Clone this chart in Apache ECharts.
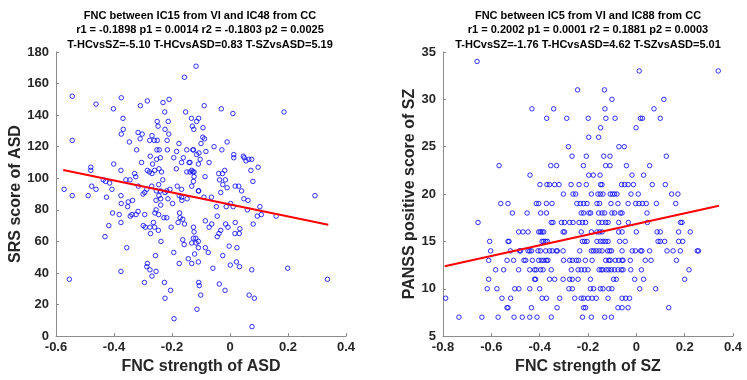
<!DOCTYPE html>
<html><head><meta charset="utf-8">
<script src="https://cdn.jsdelivr.net/npm/echarts@6/dist/echarts.min.js"></script>
<style>html,body{margin:0;padding:0;background:#fff}#c{width:747px;height:380px}</style>
</head><body><div id="c"></div>
<script>
// ---------- DATA ----------
const leftTitleLines = ['FNC between IC15 from VI and IC48 from CC','r1 = -0.1898 p1 = 0.0014 r2 = -0.1803 p2 = 0.0025','T-HCvsSZ=-5.10 T-HCvsASD=0.83 T-SZvsASD=5.19'];
const rightTitleLines = ['FNC between IC5 from VI and IC88 from CC','r1 = 0.2002 p1 = 0.0001 r2 = 0.1881 p2 = 0.0003','T-HCvsSZ=-1.76 T-HCvsASD=4.62 T-SZvsASD=5.01'];
const leftXName = 'FNC strength of ASD', leftYName = 'SRS score of ASD';
const rightXName = 'FNC strength of SZ', rightYName = 'PANSS positive score of SZ';

// ASD: [FNC strength, SRS score]
const asdPoints = [
[-0.117,171],[-0.157,164],[-0.544,152],[-0.462,147],[-0.375,151],[-0.402,144],[-0.285,149],[-0.309,146],[-0.231,148],[-0.210,150],
[-0.225,142],[-0.153,142],[-0.369,138],[-0.544,124],[-0.368,131],[-0.375,128],[-0.347,123],[-0.317,129],[-0.303,128],[-0.310,125],
[-0.269,127],[-0.261,124],[-0.251,124],[-0.251,136],[-0.248,133],[-0.213,136],[-0.224,131],[-0.211,128],[-0.217,124],[-0.176,122],
[-0.322,118],[-0.277,124],[-0.244,118],[-0.252,118],[-0.216,118],[-0.184,117],[-0.149,118],[-0.126,118],[-0.275,114],[-0.253,112],
[-0.240,113],[-0.305,110],[-0.267,109],[-0.285,105],[-0.278,104],[-0.269,103],[-0.260,105],[-0.245,106],[-0.236,104],[-0.194,113],
[-0.161,113],[-0.167,110],[-0.141,110],[-0.149,104],[-0.138,104],[-0.124,104],[-0.132,105],[-0.124,101],[-0.109,109],[-0.185,106],
[-0.480,107],[-0.480,105],[-0.376,105],[-0.401,109],[-0.477,95],[-0.462,93],[-0.437,99],[-0.429,98],[-0.415,97],[-0.407,93],
[-0.426,88],[-0.572,93],[-0.544,89],[-0.489,89],[-0.376,89],[-0.351,85],[-0.336,86],[-0.359,99],[-0.345,99],[-0.329,103],
[-0.325,101],[-0.316,95],[-0.300,90],[-0.294,91],[-0.287,93],[-0.270,95],[-0.254,92],[-0.240,92],[-0.232,99],[-0.246,96],
[-0.218,92],[-0.207,93],[-0.224,91],[-0.245,89],[-0.255,86],[-0.239,87],[-0.214,87],[-0.198,84],[-0.182,95],[-0.167,93],
[-0.167,88],[-0.166,86],[-0.175,89],[-0.148,87],[-0.132,95],[-0.109,92],[-0.126,98],
[-0.089,146],[-0.030,144],[0.010,141],[0.186,142],[-0.133,138],[-0.108,138],[-0.115,136],[-0.130,133],[-0.125,131],[-0.093,132],
[-0.094,126],[-0.088,125],[-0.100,122],[-0.055,120],[-0.010,123],[-0.128,118],[-0.115,115],[-0.107,116],[-0.083,117],[-0.028,118],
[-0.103,112],[-0.072,110],[0.013,115],[0.013,113],[0.046,114],[0.049,113],[0.055,111],[0.065,112],[0.075,112],[-0.138,110],
[0.097,107],[0.072,105],[-0.018,105],[-0.026,103],[-0.039,103],[-0.128,104],[-0.086,101],[-0.036,99],[-0.016,99],[0.079,98],
[-0.025,96],[-0.010,94],[0.018,95],[0.030,95],[0.040,92],[-0.108,92],[-0.032,91],[0.293,89],[-0.090,88],[-0.064,88],
[0.048,87],[0.062,86],[0.002,84],
[-0.405,78],[-0.382,77],[-0.375,84],[-0.353,82],[-0.344,76],[-0.338,77],[-0.324,77],[-0.317,79],[-0.376,72],[-0.418,70],
[-0.431,63],[-0.294,77],[-0.299,70],[-0.292,69],[-0.276,69],[-0.274,65],[-0.264,72],[-0.260,69],[-0.247,67],[-0.259,78],
[-0.255,80],[-0.246,77],[-0.228,75],[-0.218,75],[-0.239,83],[-0.238,60],[-0.203,69],[-0.174,78],[-0.172,75],[-0.179,72],
[-0.163,74],[-0.157,71],[-0.356,56],[-0.376,41],[-0.554,36],[-0.257,51],[-0.285,46],[-0.287,44],[-0.276,42],[-0.269,38],
[-0.255,41],[-0.295,34],[-0.226,34],[-0.224,24],[-0.205,29],[-0.193,11],[-0.194,53],[-0.175,46],[-0.163,61],[-0.158,58],
[-0.144,49],
[-0.047,82],[-0.013,82],[0.011,82],[0.103,82],[0.060,80],[0.094,76],[0.108,77],[0.159,76],[-0.044,76],[-0.085,73],
[-0.063,71],[-0.072,69],[-0.044,63],[-0.038,65],[-0.032,67],[-0.015,71],[-0.007,69],[0.018,72],[0.034,68],[0.032,65],
[0.017,65],[0.080,71],[-0.126,69],[-0.124,66],[-0.126,62],[-0.118,62],[-0.132,59],[-0.117,59],[-0.109,60],[-0.109,56],
[-0.122,52],[-0.132,46],[-0.109,47],[-0.085,56],[-0.075,53],[-0.003,57],[0.024,56],[-0.025,51],[-0.059,43],[0.001,45],
[0.022,47],[0.033,44],[0.075,42],[0.199,43],[-0.108,34],[-0.106,32],[-0.101,26],[-0.114,17],[-0.037,33],[-0.017,29],
[0.066,26],[0.084,24],[0.076,6],[0.336,36]
];
const asdFit = [[-0.575,105.3],[0.339,70.5]];

// SZ: PANSS positive score -> FNC strengths of subjects with that score
const szScores = [34,33,31,30,29,28,27,26,25,24,23,22,21,20,19,18,17,16,15,14,13,12,11,10,9,8,7];
const szFNC = [
[-0.659],
[0.012,0.339],
[-0.243,-0.132],
[-0.101,0.114],
[-0.432,-0.342,-0.130,0.073],
[-0.371,-0.288,-0.199,-0.126,-0.088,0.017,0.025,0.099],
[-0.148,-0.001],
[-0.197,-0.156],
[-0.281,-0.072,-0.050],
[-0.266,-0.207,-0.135,-0.109,0.124],
[-0.568,-0.354,-0.330,-0.219,-0.127,-0.109,-0.041,0.055],
[-0.440,-0.197,-0.178,-0.150,-0.018,0.030],
[-0.399,-0.370,-0.359,-0.338,-0.320,-0.270,-0.237,-0.207,-0.148,-0.142,-0.061,-0.048,-0.034,-0.012,0.066,0.120],
[-0.302,-0.262,-0.251,-0.186,-0.159,-0.149,-0.138,-0.108,-0.099,-0.090,-0.080,-0.022,0.008,0.146,0.172],
[-0.561,-0.531,-0.414,-0.404,-0.372,-0.349,-0.246,-0.232,-0.218,-0.204,-0.163,-0.152,-0.105,-0.076,-0.034,-0.003,0.011,0.025,0.041,0.083,0.163],
[-0.513,-0.452,-0.396,-0.372,-0.228,-0.218,-0.196,-0.189,-0.156,-0.142,-0.131,-0.101,-0.090,-0.066,-0.059,0.044],
[-0.655,-0.352,-0.345,-0.310,-0.297,-0.276,-0.262,-0.237,-0.223,-0.210,-0.156,-0.142,-0.127,-0.117,-0.073,-0.033,0.046,0.183,0.189],
[-0.487,-0.469,-0.448,-0.404,-0.397,-0.390,-0.383,-0.303,-0.297,-0.228,-0.186,-0.163,-0.152,-0.142,-0.073,-0.059,0.000,0.086,0.099,0.175,0.223],
[-0.607,-0.531,-0.527,-0.390,-0.383,-0.375,-0.368,-0.223,-0.214,-0.204,-0.163,-0.149,-0.138,-0.127,-0.117,-0.069,-0.046,0.090,0.099,0.117,0.175,0.192],
[-0.603,-0.521,-0.483,-0.479,-0.448,-0.441,-0.434,-0.407,-0.397,-0.375,-0.359,-0.348,-0.331,-0.327,-0.303,-0.234,-0.186,-0.177,-0.166,-0.154,-0.142,-0.119,-0.110,-0.103,-0.059,-0.017,-0.004,0.018,0.023,0.055,0.127,0.152,0.182,0.252,0.257],
[-0.611,-0.535,-0.508,-0.465,-0.458,-0.430,-0.404,-0.393,-0.383,-0.372,-0.366,-0.301,-0.276,-0.265,-0.248,-0.239,-0.211,-0.183,-0.127,-0.114,-0.108,-0.087,-0.073,-0.059,-0.055,-0.025,0.037,0.061,0.166],
[-0.582,-0.549,-0.487,-0.441,-0.421,-0.414,-0.396,-0.386,-0.352,-0.269,-0.241,-0.228,-0.214,-0.200,-0.154,-0.145,-0.138,-0.124,-0.114,-0.103,-0.090,-0.076,-0.062,-0.055,-0.023,0.021,0.218],
[-0.611,-0.421,-0.417,-0.359,-0.338,-0.303,-0.276,-0.265,-0.241,-0.190,-0.094,-0.083,-0.007,0.030,0.200],
[-0.617,-0.577,-0.503,-0.486,-0.441,-0.400,-0.279,-0.265,-0.190,-0.177,-0.149,-0.138,-0.114,-0.101,0.014,0.080],
[-0.789,-0.556,-0.520,-0.390,-0.372,-0.317,-0.255,-0.228,-0.218,-0.200,-0.183,-0.166,-0.117,-0.059,-0.044,-0.028],
[-0.535,-0.531,-0.434,-0.328,-0.218,-0.210,-0.076,-0.059,-0.034,0.134],
[-0.734,-0.639,-0.572,-0.506,-0.472,-0.441,-0.411,-0.352,-0.223,-0.186,-0.131,-0.103]
];
const szFit = [[-0.793,12.37],[0.342,18.77]];

const leftX = {min:-0.6, max:0.4, interval:0.2};
const leftY = {min:0, max:180, interval:20};
const rightX = {min:-0.8, max:0.4, interval:0.2};
const rightY = {min:5, max:35, interval:5};

// ---------- CHART ----------
const szPoints = [];
szScores.forEach((s,i)=>szFNC[i].forEach(x=>szPoints.push([x,s])));

const FONT = '"Liberation Sans", Arial, sans-serif';
const AX = '#8c8c8c', TXT = '#262626';
function fmt(v){ const r = Math.round(v*10)/10; return r===0 ? '0' : String(r); }
function xAxis(idx, r, name){
  return {gridIndex:idx, type:'value', min:r.min, max:r.max, interval:r.interval,
    name:name, nameLocation:'middle', nameGap:20,
    nameTextStyle:{fontFamily:FONT, fontWeight:'bold', fontSize:16, color:TXT},
    axisLine:{show:true, onZero:false, lineStyle:{color:AX, width:1}},
    axisTick:{show:true, inside:true, length:3, lineStyle:{color:AX}},
    axisLabel:{fontFamily:FONT, fontWeight:'bold', fontSize:13, color:TXT, margin:5, formatter:fmt},
    splitLine:{show:false}};
}
function yAxis(idx, r, name, gap){
  return {gridIndex:idx, type:'value', min:r.min, max:r.max, interval:r.interval,
    name:name, nameLocation:'middle', nameGap:gap,
    nameTextStyle:{fontFamily:FONT, fontWeight:'bold', fontSize:16, color:TXT},
    axisLine:{show:true, onZero:false, lineStyle:{color:AX, width:1}},
    axisTick:{show:true, inside:true, length:3, lineStyle:{color:AX}},
    axisLabel:{fontFamily:FONT, fontWeight:'bold', fontSize:13, color:TXT, margin:7},
    splitLine:{show:false}};
}
function titleGraphics(lines, cx){
  return lines.map((t,i)=>({type:'text', x:cx, y:15.7+i*14.5,
    style:{text:t, align:'center', verticalAlign:'middle', font:'bold 11px '+FONT, fill:'#000'}}));
}
const scatterStyle = {color:'rgba(0,0,0,0)', borderColor:'#0000ff', borderWidth:1};

const chart = echarts.init(document.getElementById('c'), null, {renderer:'canvas'});
chart.setOption({
  animation:false,
  backgroundColor:'#fff',
  grid:[{left:56, top:52, width:290, height:286},{left:443, top:52, width:290, height:286}],
  xAxis:[xAxis(0,leftX,leftXName), xAxis(1,rightX,rightXName)],
  yAxis:[yAxis(0,leftY,leftYName,30), yAxis(1,rightY,rightYName,24)],
  graphic: titleGraphics(leftTitleLines,200).concat(titleGraphics(rightTitleLines,588)),
  series:[
    {type:'scatter', xAxisIndex:0, yAxisIndex:0, data:asdPoints, symbol:'circle', symbolSize:4.5, itemStyle:scatterStyle, z:2},
    {type:'line', xAxisIndex:0, yAxisIndex:0, data:asdFit, showSymbol:false, lineStyle:{color:'#ff0000', width:2}, z:3},
    {type:'scatter', xAxisIndex:1, yAxisIndex:1, data:szPoints, symbol:'circle', symbolSize:4.5, itemStyle:scatterStyle, z:2},
    {type:'line', xAxisIndex:1, yAxisIndex:1, data:szFit, showSymbol:false, lineStyle:{color:'#ff0000', width:2}, z:3}
  ]
});
</script>
</body></html>
